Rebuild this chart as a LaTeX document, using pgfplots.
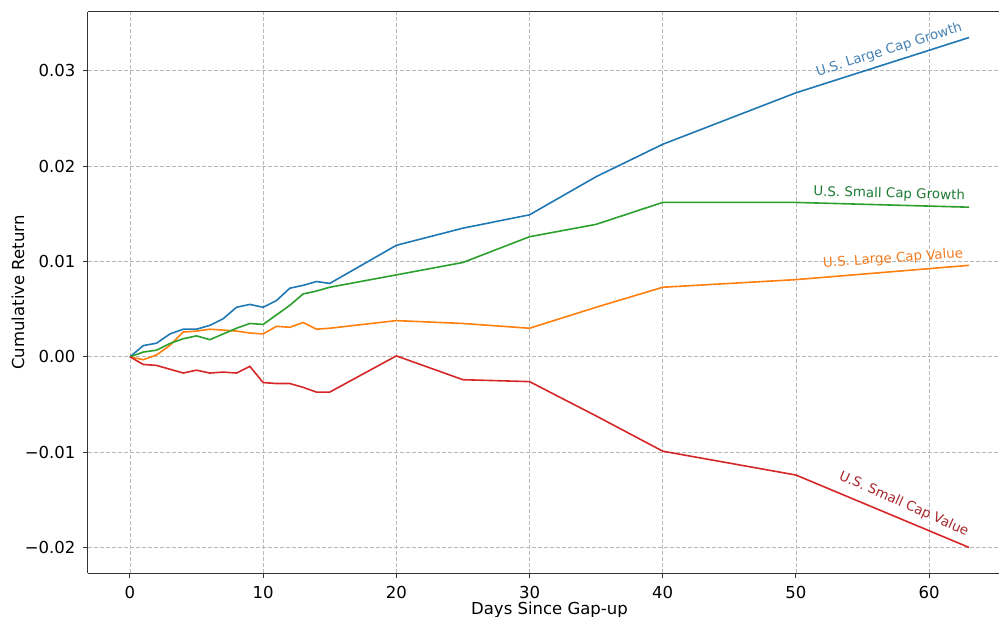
\documentclass[border=0pt]{standalone}
\usepackage{pgfplots}
\pgfplotsset{compat=1.18}
\usepackage{fontspec}
\setmainfont{DejaVu Sans}
\definecolor{tabblue}{HTML}{1F77B4}
\definecolor{taborange}{HTML}{FF7F0E}
\definecolor{tabgreen}{HTML}{2CA02C}
\definecolor{tabred}{HTML}{D62728}
\definecolor{lblblue}{HTML}{4682B4}
\definecolor{lblgreen}{HTML}{1E7B34}
\definecolor{lblorange}{HTML}{F27A1E}
\definecolor{lblred}{HTML}{A8262C}
\definecolor{spine}{HTML}{333333}
\begin{document}
\begin{tikzpicture}
\begin{axis}[
  scale only axis,
  width=461.5pt, height=280.5pt,
  xmin=-3.15, xmax=66.15,
  ymin=-0.02268, ymax=0.03618,
  axis x line*=box, axis y line*=left,
  xtick={0,10,20,30,40,50,60},
  ytick={-0.02,-0.01,0,0.01,0.02,0.03},
  yticklabels={−0.02,−0.01,0.00,0.01,0.02,0.03},
  tick align=outside,
  major tick length=2.5pt,
  tick style={spine, line width=0.5pt},
  xtick pos=bottom, ytick pos=left,
  axis line style={spine, line width=0.5pt, -},
  grid=major,
  major grid style={gray!55, line width=0.4pt, dash pattern=on 2pt off 1pt},
  ticklabel style={font=\fontsize{8.25pt}{10pt}\selectfont, text=black},
  /pgf/number format/assume math mode=true,
  xticklabel style={yshift=-0.6pt},
  yticklabel style={xshift=-0.3pt},
  xlabel={Days Since Gap-up},
  ylabel={Cumulative Return},
  label style={font=\fontsize{8.25pt}{10pt}\selectfont},
  xlabel style={at={(axis description cs:0.5,-0.0505)}, anchor=north, inner sep=0pt},
  ylabel style={at={(axis description cs:-0.0758,0.5)}, anchor=center, inner sep=0pt},
  clip=false,
]
\addplot[tabblue, line width=0.8pt] coordinates {
(0,0) (1,0.00118) (2,0.00143) (3,0.0024) (4,0.0029) (5,0.0029) (6,0.0033) (7,0.0040)
(8,0.0052) (9,0.0055) (10,0.0052) (11,0.0059) (12,0.0072) (13,0.0075) (14,0.0079) (15,0.0077)
(20,0.0117) (25,0.0135) (30,0.0149) (35,0.0189) (40,0.0223) (50,0.0277) (63,0.0335)};
\addplot[taborange, line width=0.8pt] coordinates {
(0,0) (1,-0.0003) (2,0.0002) (3,0.0012) (4,0.0026) (5,0.0027) (6,0.0029) (7,0.0028)
(8,0.0027) (9,0.0025) (10,0.0024) (11,0.0032) (12,0.0031) (13,0.0036) (14,0.0029) (15,0.0030)
(20,0.0038) (25,0.0035) (30,0.0030) (35,0.0052) (40,0.0073) (50,0.0081) (63,0.0096)};
\addplot[tabgreen, line width=0.8pt] coordinates {
(0,0) (1,0.0005) (2,0.0007) (3,0.0014) (4,0.0019) (5,0.0022) (6,0.0018) (7,0.0024)
(8,0.0030) (9,0.0035) (10,0.0034) (11,0.0044) (12,0.0054) (13,0.0066) (14,0.0069) (15,0.0073)
(20,0.0086) (25,0.0099) (30,0.0126) (35,0.0139) (40,0.0162) (50,0.0162) (63,0.0157)};
\addplot[tabred, line width=0.8pt] coordinates {
(0,0) (1,-0.0008) (2,-0.0009) (3,-0.0013) (4,-0.0017) (5,-0.0014) (6,-0.0017) (7,-0.0016)
(8,-0.0017) (9,-0.0010) (10,-0.0027) (11,-0.0028) (12,-0.0028) (13,-0.0032) (14,-0.0037) (15,-0.0037)
(20,0.0001) (25,-0.0024) (30,-0.0026) (35,-0.0062) (40,-0.0099) (50,-0.0124) (63,-0.0200)};
\node[text=lblblue, rotate=17.5, inner sep=0pt, font=\fontsize{6.7pt}{8pt}\selectfont] at (axis cs:57.0,0.0322) {U.S. Large Cap Growth};
\node[text=lblgreen, rotate=-1.5, inner sep=0pt, font=\fontsize{6.7pt}{8pt}\selectfont] at (axis cs:57.0,0.01707) {U.S. Small Cap Growth};
\node[text=lblorange, rotate=4, inner sep=0pt, font=\fontsize{6.7pt}{8pt}\selectfont] at (axis cs:57.3,0.0103) {U.S. Large Cap Value};
\node[text=lblred, rotate=-24, inner sep=0pt, font=\fontsize{6.7pt}{8pt}\selectfont] at (axis cs:58.1,-0.01545) {U.S. Small Cap Value};
\end{axis}
\pgfresetboundingbox
\path (-44pt,-21.5pt) rectangle (455.5pt,286.5pt);
\end{tikzpicture}
\end{document}
